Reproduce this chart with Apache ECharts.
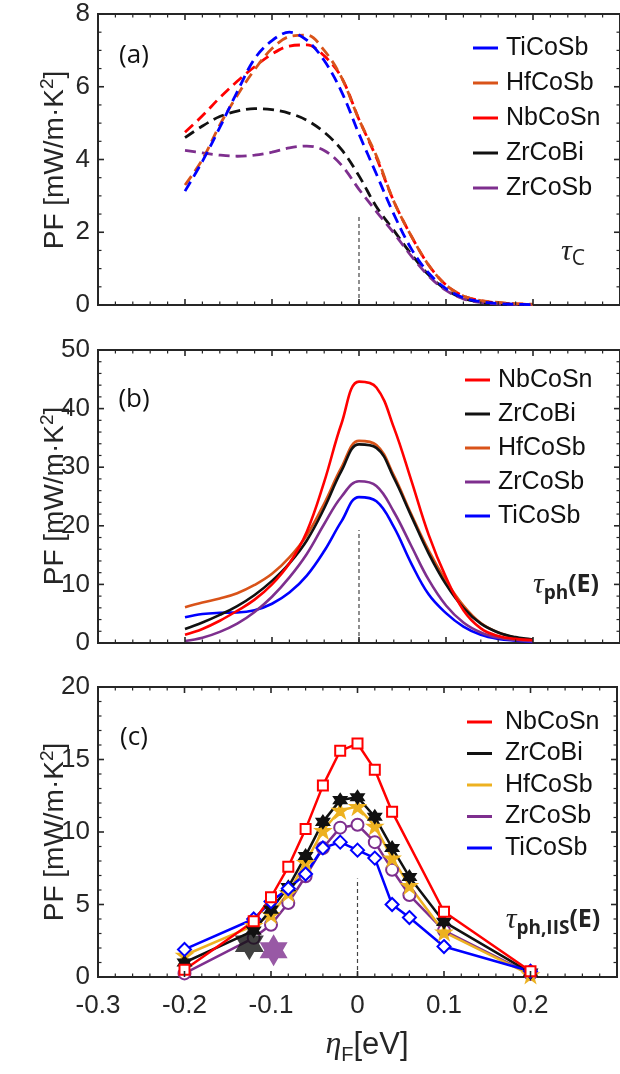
<!DOCTYPE html>
<html><head><meta charset="utf-8">
<script src="https://cdn.jsdelivr.net/npm/echarts@6/dist/echarts.min.js"></script>
<style>html,body{margin:0;padding:0;background:#fff}#c{width:620px;height:1074px}</style>
</head><body><div id="c"></div>
<script>
// ---------- DATA ----------
// Panel (a): tau_C  (dashed)
const etaA = [-0.2,-0.18,-0.16,-0.14,-0.12,-0.1,-0.08,-0.06,-0.04,-0.02,0,0.02,0.04,0.06,0.08,0.1,0.12,0.14,0.16,0.18,0.2];
const pfA_TiCoSb = [3.13,3.95,4.88,5.86,6.77,7.27,7.5,7.28,6.72,5.86,4.7,3.6,2.5,1.55,0.88,0.45,0.2,0.09,0.04,0.02,0.01];
const pfA_HfCoSb = [3.3,4.0,4.95,5.76,6.47,7.05,7.38,7.42,7.0,6.25,5.1,4.1,2.85,1.9,1.1,0.55,0.25,0.12,0.07,0.04,0.02];
const pfA_NbCoSn = [4.75,5.2,5.7,6.15,6.55,6.9,7.12,7.15,6.85,6.25,5.1,4.05,2.85,1.9,1.1,0.55,0.25,0.12,0.06,0.03,0.01];
const pfA_ZrCoBi = [4.6,4.92,5.18,5.33,5.4,5.37,5.27,5.08,4.75,4.27,3.55,2.7,2.05,1.4,0.83,0.42,0.18,0.08,0.04,0.02,0.01];
const pfA_ZrCoSb = [4.25,4.18,4.12,4.09,4.12,4.2,4.32,4.37,4.25,3.84,3.18,2.57,1.98,1.35,0.8,0.4,0.17,0.07,0.03,0.02,0.01];

// Panel (b): tau_ph(E)
const etaB = [-0.2,-0.18,-0.16,-0.14,-0.12,-0.1,-0.08,-0.06,-0.04,-0.02,0,0.02,0.04,0.06,0.08,0.1,0.12,0.14,0.16,0.18,0.2];
const pfB_NbCoSn = [1.4,2.4,3.8,5.5,7.4,10.0,13.6,19.0,27.5,37.5,44.6,43.6,36.8,27.8,18.5,11.2,5.6,2.5,1.2,0.7,0.5];
const pfB_ZrCoBi = [2.4,3.5,4.8,6.3,8.2,10.6,13.6,17.5,23.0,29.4,33.9,33.3,28.2,21.7,15.3,10.0,6.0,3.3,1.8,1.0,0.6];
const pfB_HfCoSb = [6.1,6.9,7.6,8.5,9.9,11.8,14.6,18.4,23.8,30.0,34.5,33.8,28.6,22.0,15.8,10.6,6.4,3.4,1.8,0.9,0.5];
const pfB_ZrCoSb = [0.35,0.9,1.9,3.3,5.3,7.9,11.2,15.2,20.3,25.0,27.6,26.8,22.4,16.6,10.8,6.4,3.5,1.8,0.9,0.5,0.3];
const pfB_TiCoSb = [4.4,4.95,5.15,5.2,5.6,6.7,8.6,11.5,15.7,20.8,24.9,24.2,19.8,13.6,8.3,5.1,2.8,1.4,0.7,0.4,0.2];

// Panel (c): tau_ph,IIS(E)  (markers)
const etaC = [-0.2,-0.12,-0.1,-0.08,-0.06,-0.04,-0.02,0,0.02,0.04,0.06,0.1,0.2];
const pfC_NbCoSn = [0.5,3.85,5.5,7.6,10.2,13.2,15.6,16.1,14.3,11.4,null,4.5,0.4];
const pfC_ZrCoBi = [1.0,3.2,4.65,6.2,8.35,10.7,12.2,12.4,11.05,8.9,6.9,3.8,0.3];
const pfC_HfCoSb = [1.5,3.55,4.3,5.8,7.9,10.1,11.5,11.75,10.4,8.2,6.3,3.1,0.15];
const pfC_ZrCoSb = [0.25,2.7,3.6,5.1,6.95,8.9,10.3,10.5,9.3,7.4,5.65,3.2,0.2];
const pfC_TiCoSb = [1.9,4.0,5.2,6.1,7.1,8.9,9.3,8.75,8.2,5.0,4.1,2.1,0.4];
const expZrCoBi = [[-0.125, 2.3]];
const expZrCoSb = [[-0.097, 1.85]];

// axes
const xMin = -0.3, xMax = 0.3, xStep = 0.1, xMinorSplit = 5;
const yMaxs = [8, 50, 20];
const ySteps = [2, 10, 5];
const yMinorSplits = [4, 5, 5];
const refLineTop = [2.45, 19.3, 6.8];   // top of dotted line at eta=0

// ---------- STYLE ----------
const COL = {TiCoSb:'#0000ff', HfCoSb:'#d95319', NbCoSn:'#ff0000', ZrCoBi:'#111111', ZrCoSb:'#7e2f8e', HfCoSbC:'#edb120'};
const FONT = '"Liberation Sans", Arial, sans-serif';
const AX = '#262626';
const HEX = 'path://M0,-100L28.87,-50L86.6,-50L57.7,0L86.6,50L28.87,50L0,100L-28.87,50L-86.6,50L-57.7,0L-86.6,-50L-28.87,-50Z';
const PENT = 'path://M0,-100L22.45,-30.9L95.1,-30.9L36.3,11.8L58.8,80.9L0,38.2L-58.8,80.9L-36.3,11.8L-95.1,-30.9L-22.45,-30.9Z';
const zip = (xs, ys) => xs.map((x, i) => [x, ys[i]]);
const r6 = v => Math.round(v * 1e6) / 1e6;
const isMult = (v, s) => Math.abs(v / s - Math.round(v / s)) < 1e-6;

const gridTops = [14, 350, 687], gridHeights = [291, 293, 290];
const grids = gridTops.map((t, i) => ({left:98, right:-4, top:t, height:gridHeights[i],
  show:true, borderColor:AX, borderWidth:2, backgroundColor:'transparent'}));

const xAxes = [], yAxes = [];
for (let i = 0; i < 3; i++) {
  ['bottom', 'top'].forEach(pos => {
    xAxes.push({gridIndex:i, type:'value', min:xMin, max:xMax, interval:xStep, position:pos,
      axisLine:{show:true, onZero:false, lineStyle:{color:AX, width:2}},
      axisTick:{show:false}, minorTick:{show:false}, splitLine:{show:false},
      axisLabel:(pos === 'bottom' && i === 2) ? {show:true, margin:16, fontSize:26, fontFamily:FONT, color:AX,
        formatter:v => (v > 0.25 ? '' : (Math.abs(v) < 1e-9 ? '0' : (+v.toFixed(1)).toString()))} : {show:false}});
  });
  ['left', 'right'].forEach(pos => {
    yAxes.push({gridIndex:i, type:'value', min:0, max:yMaxs[i], interval:ySteps[i], position:pos,
      axisLine:{show:true, onZero:false, lineStyle:{color:AX, width:2}},
      axisTick:{show:false}, minorTick:{show:false}, splitLine:{show:false},
      axisLabel:pos === 'left' ? {show:true, margin:8, fontSize:26, fontFamily:FONT, color:AX} : {show:false}});
  });
}

const series = [];
// frame ticks: one custom series per panel, 2-dim items.
// x ticks are items [x, -1]; y ticks are items [xMin, y]. Drawn through api.coord.
for (let i = 0; i < 3; i++) {
  const items = [];
  const nx = Math.round((xMax - xMin) / xStep * xMinorSplit);
  for (let k = 0; k <= nx; k++) items.push([r6(xMin + k * xStep / xMinorSplit), -1]);
  const ny = Math.round(yMaxs[i] / ySteps[i] * yMinorSplits[i]);
  for (let k = 0; k <= ny; k++) items.push([xMin, r6(k * ySteps[i] / yMinorSplits[i])]);
  const ymax = yMaxs[i], ystep = ySteps[i];
  series.push({type:'custom', xAxisIndex:i*2, yAxisIndex:i*2, silent:true, z:20, data:items,
    renderItem:(p, api) => {
      const a = api.value(0), b = api.value(1);
      if (b < 0) {
        const major = isMult(a - xMin, xStep);
        const len = major ? 6 : 3.5, w = major ? 1.6 : 1.2;
        const pb = api.coord([a, 0]), pt = api.coord([a, ymax]);
        return {type:'group', children:[
          {type:'line', shape:{x1:pb[0], y1:pb[1], x2:pb[0], y2:pb[1] - len}, style:{stroke:AX, lineWidth:w}},
          {type:'line', shape:{x1:pt[0], y1:pt[1], x2:pt[0], y2:pt[1] + len}, style:{stroke:AX, lineWidth:w}}]};
      }
      const major = isMult(b, ystep);
      const len = major ? 6 : 3.5, w = major ? 1.6 : 1.2;
      const pl = api.coord([xMin, b]), pr = api.coord([xMax, b]);
      return {type:'group', children:[
        {type:'line', shape:{x1:pl[0], y1:pl[1], x2:pl[0] + len, y2:pl[1]}, style:{stroke:AX, lineWidth:w}},
        {type:'line', shape:{x1:pr[0], y1:pr[1], x2:pr[0] - len, y2:pr[1]}, style:{stroke:AX, lineWidth:w}}]};
    }});
}
for (let i = 0; i < 3; i++) {
  series.push({type:'line', xAxisIndex:i*2, yAxisIndex:i*2, data:[[0,0],[0,refLineTop[i]]],
    symbol:'none', silent:true, z:1, lineStyle:{color:'#444', width:1.2, type:[4,3]}});
}
const aList = [['NbCoSn',pfA_NbCoSn],['ZrCoBi',pfA_ZrCoBi],['ZrCoSb',pfA_ZrCoSb],['HfCoSb',pfA_HfCoSb],['TiCoSb',pfA_TiCoSb]];
aList.forEach(([n, ys]) => series.push({name:'a:'+n, type:'line', xAxisIndex:0, yAxisIndex:0,
  data:zip(etaA, ys), symbol:'none', smooth:0.35,
  itemStyle:{color:COL[n]}, lineStyle:{color:COL[n], width:2.8, type:[11,6]}}));
const bList = [['TiCoSb',pfB_TiCoSb],['ZrCoSb',pfB_ZrCoSb],['HfCoSb',pfB_HfCoSb],['ZrCoBi',pfB_ZrCoBi],['NbCoSn',pfB_NbCoSn]];
bList.forEach(([n, ys]) => series.push({name:'b:'+n, type:'line', xAxisIndex:2, yAxisIndex:2,
  data:zip(etaB, ys), symbol:'none', smooth:0.4,
  itemStyle:{color:COL[n]}, lineStyle:{color:COL[n], width:2.6}}));
const cList = [
  ['ZrCoSb', pfC_ZrCoSb, COL.ZrCoSb, 'emptyCircle', 12],
  ['HfCoSb', pfC_HfCoSb, COL.HfCoSbC, PENT, 15],
  ['ZrCoBi', pfC_ZrCoBi, COL.ZrCoBi, HEX, 13],
  ['TiCoSb', pfC_TiCoSb, COL.TiCoSb, 'emptyDiamond', 13],
  ['NbCoSn', pfC_NbCoSn, COL.NbCoSn, 'emptyRect', 10]
];
cList.forEach(([n, ys, col, sym, sz]) => series.push({name:'c:'+n, type:'line', xAxisIndex:4, yAxisIndex:4,
  data:zip(etaC, ys), connectNulls:true, symbol:sym, symbolSize:sz, showAllSymbol:true,
  itemStyle:{color:col, borderColor:col, borderWidth:1.6}, lineStyle:{color:col, width:2.5}}));
series.push({type:'scatter', xAxisIndex:4, yAxisIndex:4, data:expZrCoBi, symbol:HEX, symbolSize:[29,33], z:10, itemStyle:{color:'#111'}});
series.push({type:'scatter', xAxisIndex:4, yAxisIndex:4, data:expZrCoSb, symbol:HEX, symbolSize:[28,32], z:10, itemStyle:{color:COL.ZrCoSb}});

const legBase = {orient:'vertical', icon:'rect', itemWidth:25, itemHeight:3, padding:0, selectedMode:false,
  itemStyle:{borderWidth:0}, formatter:n => n.slice(2),
  textStyle:{fontSize:25, fontFamily:FONT, color:'#111', lineHeight:26, padding:[0,0,0,3]}};
const legends = [
  Object.assign({}, legBase, {left:473, top:35, itemGap:9, data:['a:TiCoSb','a:HfCoSb','a:NbCoSn','a:ZrCoBi','a:ZrCoSb']}),
  Object.assign({}, legBase, {left:465, top:367, itemGap:8, data:['b:NbCoSn','b:ZrCoBi','b:HfCoSb','b:ZrCoSb','b:TiCoSb']}),
  Object.assign({}, legBase, {left:467, top:709, itemGap:5.5, textStyle:Object.assign({}, legBase.textStyle, {padding:[0,0,0,8]}),
    data:['c:NbCoSn','c:ZrCoBi','c:HfCoSb','c:ZrCoSb','c:TiCoSb']})
];
const SERIF_I = 'italic 30px "Liberation Serif", "DejaVu Serif", serif';
const yTitle = (y) => ({type:'text', x:55, y:y, rotation:Math.PI/2, z:10,
  style:{text:'PF [mW/m·K{sup|2}]', fontSize:28, fontFamily:FONT, fill:'#262626', align:'center', verticalAlign:'middle',
    lineHeight:34, rich:{sup:{fontSize:19, fontFamily:FONT, fill:'#262626', verticalAlign:'top', lineHeight:19}}}});
const panelLabel = (t, x, y) => ({type:'text', x:x, y:y, z:10,
  style:{text:t, fontSize:26, fontFamily:'"Open Sans", sans-serif', fill:'#111', align:'center', verticalAlign:'middle'}});
const tauLabel = (sub, rest, x, y) => ({type:'text', x:x, y:y, z:10,
  style:{text:'{t|τ}{s|' + sub + '}' + (rest ? '{r|' + rest + '}' : ''), align:'center', verticalAlign:'middle',
    rich:{t:{font:SERIF_I, fill:'#222', lineHeight:36, verticalAlign:'middle'},
      s:{fontSize:19, fontFamily:'"Open Sans", sans-serif', fontWeight:'bold', fill:'#222', lineHeight:20, verticalAlign:'bottom'},
      r:{fontSize:25, fontFamily:'"Open Sans", sans-serif', fontWeight:'bold', fill:'#222', lineHeight:36, verticalAlign:'middle'}}}});
const graphics = [
  yTitle(160), yTitle(496), yTitle(832),
  panelLabel('(a)', 134, 56), panelLabel('(b)', 134, 400), panelLabel('(c)', 134, 738),
  {type:'text', x:573, y:252, z:10, style:{text:'{t|τ}{s|C}', align:'center', verticalAlign:'middle',
    rich:{t:{font:SERIF_I, fill:'#222', lineHeight:36}, s:{fontSize:21, fontFamily:'"Open Sans", sans-serif', fill:'#222', lineHeight:22, verticalAlign:'bottom'}}}},
  tauLabel('ph', '(E)', 566, 585),
  tauLabel('ph,IIS', '(E)', 553, 920),
  {type:'text', x:367, y:1045, z:10, style:{text:'{e|η}{s|F}{n|[eV]}', align:'center', verticalAlign:'middle',
    rich:{e:{font:'italic 32px "Liberation Serif", "DejaVu Serif", serif', fill:'#262626', lineHeight:40},
      s:{fontSize:20, fontFamily:FONT, fill:'#262626', lineHeight:22, verticalAlign:'bottom'},
      n:{fontSize:31, fontFamily:FONT, fill:'#262626', lineHeight:40}}}}
];
const chart = echarts.init(document.getElementById('c'), null, {renderer:'canvas', width:620, height:1074});
chart.setOption({animation:false, backgroundColor:'#fff',
  grid:grids, xAxis:xAxes, yAxis:yAxes, series:series, legend:legends, graphic:graphics});
</script></body></html>
